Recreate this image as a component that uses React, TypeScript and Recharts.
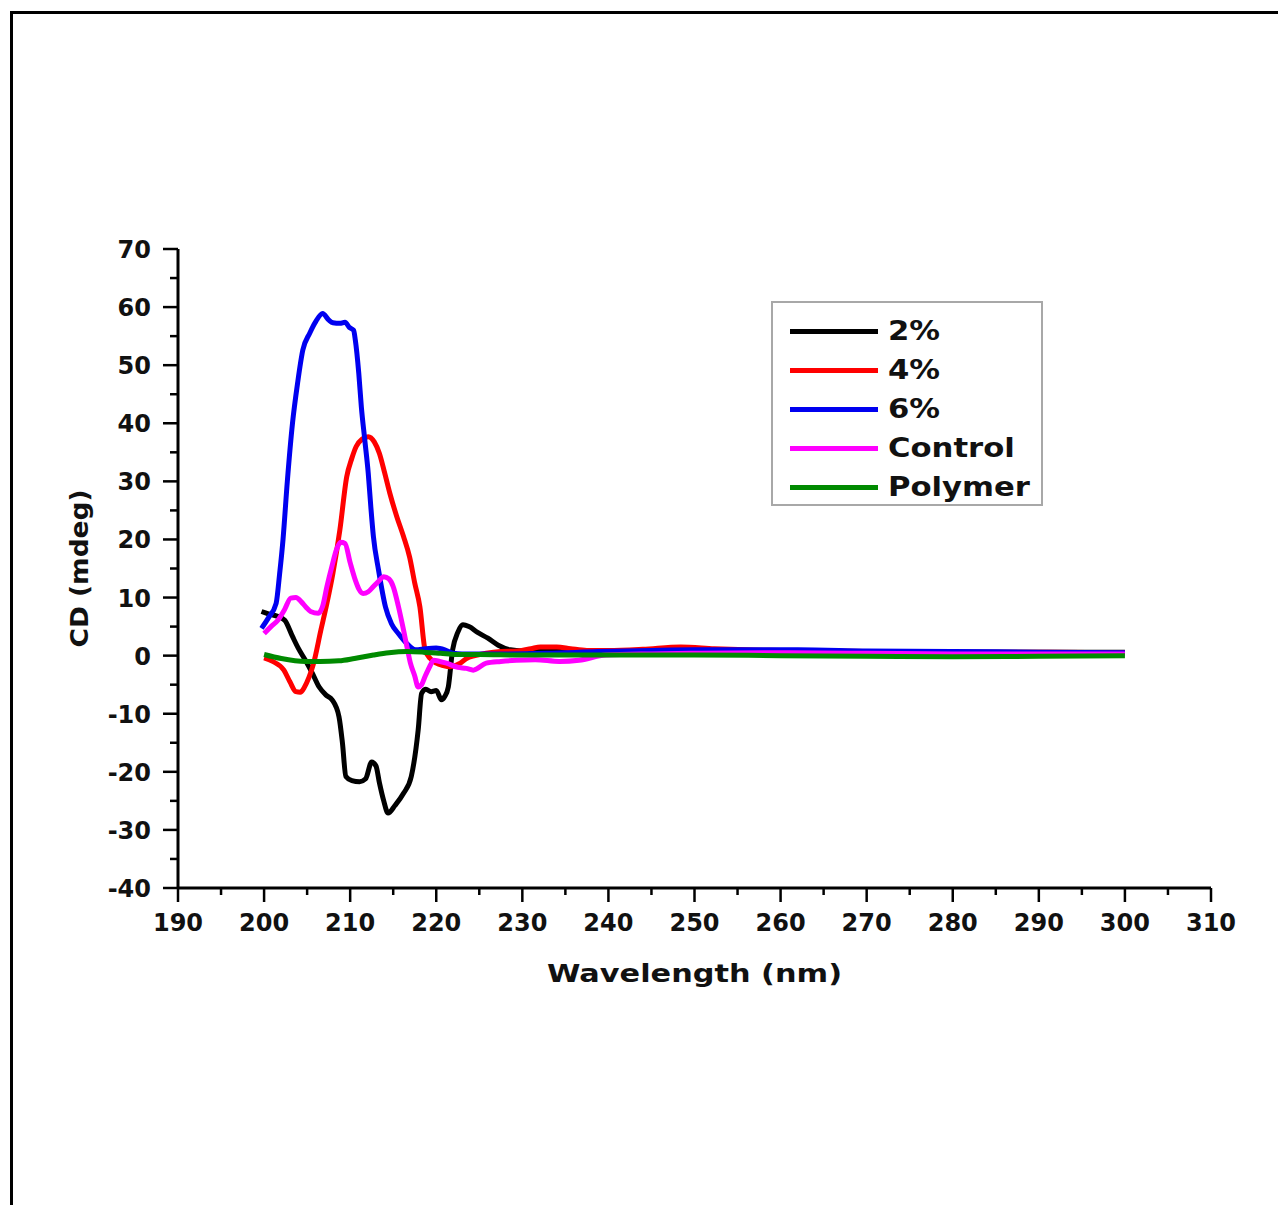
import { Legend, Line, LineChart, XAxis, YAxis } from "recharts";

const FONT = '"DejaVu Sans", "Liberation Sans", sans-serif';

// wavelength (nm) / CD (mdeg) pairs
const twoPctX = [199.7, 200.5, 201.5, 202.4, 203.3, 204.0, 204.8, 205.6, 206.4, 207.2, 207.9, 208.7, 209.1, 209.5, 210.2, 211.1, 211.8, 212.5, 213.0, 213.4, 213.9, 214.4, 215.2, 216.2, 217.1, 217.9, 218.3, 218.8, 219.4, 220.0, 220.6, 221.0, 221.4, 221.9, 222.5, 223.1, 223.8, 224.8, 226.0, 227.2, 228.6, 230, 235, 240, 250, 260, 270, 280, 290, 300];
const twoPctY = [7.6, 7.2, 6.8, 6.1, 3.3, 1.2, -0.8, -3.0, -5.4, -6.8, -7.6, -10.5, -15, -20.8, -21.5, -21.7, -21.2, -18.3, -19.0, -21.9, -25.0, -27.1, -25.8, -23.7, -20.8, -12.8, -6.5, -5.8, -6.2, -6.0, -7.6, -7.0, -5.4, 1.0, 4.0, 5.3, 5.0, 4.0, 3.0, 1.8, 1.0, 0.8, 0.9, 0.8, 0.9, 0.8, 0.7, 0.6, 0.6, 0.6];

const fourPctX = [200, 201, 202.3, 203.0, 203.7, 204.2, 204.7, 205.2, 205.7, 206.6, 207.3, 208, 208.8, 209.6, 210.2, 210.7, 211.4, 212.1, 212.8, 213.4, 214.0, 214.6, 215.4, 216.2, 216.9, 217.5, 218.1, 218.7, 219.3, 220.0, 220.8, 221.6, 222.8, 223.5, 224.5, 225.8, 227.5, 229.5, 231, 232.1, 234, 235.6, 237.5, 240, 244, 248.4, 252.3, 256, 260, 270, 280, 290, 300];
const fourPctY = [-0.4, -1.0, -2.5, -4.5, -6.2, -6.3, -5.4, -3.8, -1.6, 4.4, 9, 14.2, 21.6, 30.8, 34, 36, 37.3, 37.7, 36.8, 34.8, 31.5, 28, 24, 20.5, 17, 12.5, 8.4, 1.0, -0.5, -1.3, -1.7, -1.9, -1.3, -0.5, 0, 0.4, 0.7, 0.8, 1.2, 1.5, 1.5, 1.2, 0.9, 0.9, 1.1, 1.5, 1.2, 1.0, 0.9, 0.7, 0.6, 0.6, 0.5];

const sixPctX = [199.7, 200.5, 201.4, 201.8, 202.2, 202.7, 203.3, 203.9, 204.5, 205.3, 206.0, 206.8, 207.5, 208.0, 208.8, 209.4, 209.9, 210.4, 210.6, 211.0, 211.3, 211.7, 212.1, 212.4, 212.7, 213.3, 214.1, 214.8, 215.6, 216.5, 217.6, 218.8, 220.0, 221.0, 222.0, 223, 225, 228, 232.9, 238.8, 245, 250, 255, 262, 270, 280, 290, 300];
const sixPctY = [4.7, 6.5, 9, 14, 20, 30, 40, 47, 52.6, 55.5, 57.5, 58.9, 57.8, 57.3, 57.2, 57.4, 56.5, 56, 54.3, 48.6, 42.8, 37.1, 31.4, 25.6, 20.5, 14.7, 8.4, 5.5, 3.8, 2.2, 1.0, 1.2, 1.3, 1.0, 0.4, 0.3, 0.3, 0.3, 0.4, 0.7, 0.9, 1.0, 1.0, 1.0, 0.8, 0.7, 0.6, 0.5];

const controlX = [200, 200.8, 201.6, 202.4, 203.1, 203.7, 204.3, 204.9, 205.4, 206.3, 206.8, 207.3, 207.9, 208.4, 208.9, 209.4, 210.0, 210.6, 211.0, 211.5, 212.1, 212.7, 213.3, 213.9, 214.5, 215.0, 215.6, 216.2, 216.6, 217.0, 217.5, 217.9, 218.3, 218.7, 219.2, 219.7, 220.4, 221.2, 222.5, 223.5, 224.3, 225.8, 227.5, 229.3, 231.5, 234.3, 236.6, 239.7, 245, 250, 260, 270, 280, 290, 300];
const controlY = [3.8, 5, 6.1, 8, 9.9, 10, 9.3, 8.3, 7.6, 7.3, 8.5, 11.9, 15.5, 18.2, 19.5, 19.3, 16, 13, 11.5, 10.7, 11, 11.9, 12.8, 13.6, 13.2, 11.9, 8.5, 4.4, 1.5, -1.3, -3.5, -5.4, -5.0, -3.6, -2.0, -0.8, -1.0, -1.3, -2.0, -2.2, -2.5, -1.3, -1.0, -0.8, -0.7, -1.0, -0.8, 0.1, 0.3, 0.4, 0.5, 0.4, 0.3, 0.3, 0.3];

const polymerX = [200, 202, 204.8, 206.5, 208.7, 210.5, 212.7, 214.5, 216.6, 218.5, 220.5, 222.4, 225, 230, 240, 250, 260, 270, 280, 290, 300];
const polymerY = [0.2, -0.5, -1.0, -1.0, -0.9, -0.5, 0.1, 0.5, 0.7, 0.6, 0.4, 0.2, 0.2, 0.1, 0.1, 0.1, 0.0, -0.1, -0.2, -0.1, 0.0];

const xTicks = [190, 195, 200, 205, 210, 215, 220, 225, 230, 235, 240, 245, 250, 255, 260, 265, 270, 275, 280, 285, 290, 295, 300, 305, 310];
const yTicks = [-40, -35, -30, -25, -20, -15, -10, -5, 0, 5, 10, 15, 20, 25, 30, 35, 40, 45, 50, 55, 60, 65, 70];

const toPoints = (xs: number[], ys: number[]) => xs.map((x, i) => ({ x, y: ys[i] }));

const series = [
	{ name: "2%", color: "#000000", data: toPoints(twoPctX, twoPctY) },
	{ name: "4%", color: "#ff0000", data: toPoints(fourPctX, fourPctY) },
	{ name: "6%", color: "#0000f0", data: toPoints(sixPctX, sixPctY) },
	{ name: "Control", color: "#ff00ff", data: toPoints(controlX, controlY) },
	{ name: "Polymer", color: "#008a00", data: toPoints(polymerX, polymerY) },
];

function XTick(props: any) {
	const { x, y, payload } = props;
	const major = payload.value % 10 === 0;
	return (
		<g>
			<line x1={x} y1={y} x2={x} y2={y + (major ? 14 : 7)} stroke="#000" strokeWidth={2.5} />
			{major && (
				<text x={x} y={y + 43} textAnchor="middle" fontFamily={FONT} fontWeight="bold" fontSize={24} fill="#111">
					{payload.value}
				</text>
			)}
		</g>
	);
}

function YTick(props: any) {
	const { x, y, payload } = props;
	const major = payload.value % 10 === 0;
	return (
		<g>
			<line x1={x} y1={y} x2={x - (major ? 15 : 8)} y2={y} stroke="#000" strokeWidth={2.5} />
			{major && (
				<text x={x - 27} y={y + 9} textAnchor="end" fontFamily={FONT} fontWeight="bold" fontSize={24} fill="#111">
					{payload.value}
				</text>
			)}
		</g>
	);
}

function LegendBox(props: any) {
	const { payload } = props;
	return (
		<div
			style={{
				boxSizing: "border-box",
				width: 272,
				height: 205,
				border: "2px solid #a8a8a8",
				paddingTop: 9,
				background: "#fff",
			}}
		>
			{payload.map((entry: any) => (
				<div key={entry.value} style={{ display: "flex", alignItems: "center", height: 39 }}>
					<div style={{ marginLeft: 17, width: 88, height: 5, background: entry.color }} />
					<span
						style={{
							marginLeft: 10,
							fontFamily: FONT,
							fontWeight: "bold",
							fontSize: 26,
							color: "#111",
							display: "inline-block",
							transform: "scaleX(1.18)",
							transformOrigin: "left center",
							lineHeight: "39px",
						}}
					>
						{entry.value}
					</span>
				</div>
			))}
		</div>
	);
}

export default function App() {
	return (
		<div style={{ position: "absolute", left: 0, top: 0, width: 1278, height: 1205, background: "#fff" }}>
			<div
				style={{
					position: "absolute",
					left: 10,
					top: 11,
					width: 1268,
					height: 1194,
					boxSizing: "border-box",
					borderTop: "3px solid #000",
					borderLeft: "3px solid #000",
				}}
			/>
			<div style={{ position: "absolute", left: 0, top: 0 }}>
				<LineChart width={1278} height={1205} margin={{ top: 249, right: 67, bottom: 217, left: 78 }}>
					<XAxis
						type="number"
						dataKey="x"
						domain={[190, 310]}
						ticks={xTicks}
						interval={0}
						tickSize={0}
						tickMargin={0}
						tickLine={false}
						tick={<XTick />}
						height={100}
						axisLine={{ stroke: "#000", strokeWidth: 3 }}
						allowDuplicatedCategory={false}
						label={{
							content: (p: any) => {
								const vb = p.viewBox;
								return (
									<text
										x={vb.x + vb.width / 2}
										y={vb.y + 94}
										textAnchor="middle"
										fontFamily={FONT}
										fontWeight="bold"
										fontSize={25}
										textLength={295}
										lengthAdjust="spacingAndGlyphs"
										fill="#111"
									>
										Wavelength (nm)
									</text>
								);
							},
						}}
					/>
					<YAxis
						type="number"
						dataKey="y"
						domain={[-40, 70]}
						ticks={yTicks}
						interval={0}
						tickSize={0}
						tickMargin={0}
						tickLine={false}
						tick={<YTick />}
						width={100}
						axisLine={{ stroke: "#000", strokeWidth: 3 }}
						label={{
							content: (p: any) => {
								const vb = p.viewBox;
								const cx = vb.x + vb.width - 99;
								const cy = vb.y + vb.height / 2;
								return (
									<text
										x={cx}
										y={cy}
										transform={`rotate(-90 ${cx} ${cy})`}
										textAnchor="middle"
										dominantBaseline="central"
										fontFamily={FONT}
										fontWeight="bold"
										fontSize={25}
										textLength={158}
										lengthAdjust="spacingAndGlyphs"
										fill="#111"
									>
										CD (mdeg)
									</text>
								);
							},
						}}
					/>
					<Legend
						layout="horizontal"
						align="center"
						verticalAlign="middle"
						content={<LegendBox />}
						wrapperStyle={{ left: 771, top: 301, width: 272, height: 205 }}
					/>
					{series.map((s) => (
						<Line
							key={s.name}
							name={s.name}
							data={s.data}
							dataKey="y"
							type="monotone"
							stroke={s.color}
							strokeWidth={5}
							dot={false}
							activeDot={false}
							isAnimationActive={false}
						/>
					))}
				</LineChart>
			</div>
		</div>
	);
}
